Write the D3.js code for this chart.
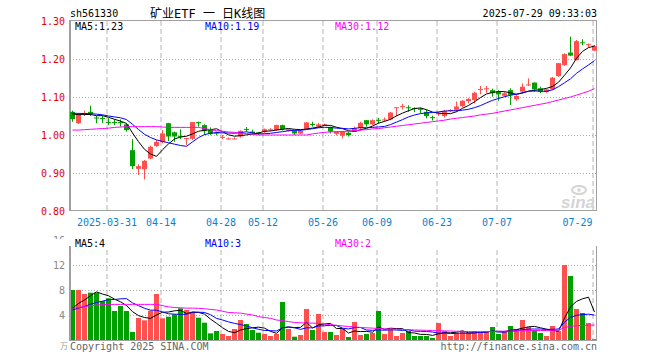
<!DOCTYPE html>
<html>
<head>
<meta charset="utf-8">
<script src="https://cdn.jsdelivr.net/npm/d3@7"></script>
<style>
body { margin: 0; background: #fff; }
svg { display: block; }
text { font-family: "DejaVu Sans Mono", "Liberation Mono", "Noto Sans CJK SC", monospace; font-size: 10px; }
</style>
</head>
<body>
<svg width="660" height="360"></svg>
<script>
// daily K data, 2025-03-21 .. 2025-07-29 (88 sessions)
var open = [1.061,1.031,1.054,1.061,1.046,1.045,1.034,1.034,1.034,1.028,
    0.960,0.911,0.910,0.938,0.971,0.981,1.031,1.007,0.997,0.990,
    0.990,1.034,1.026,1.015,1.006,0.994,0.990,0.990,0.996,1.016,
    1.009,1.007,1.009,1.014,1.013,1.026,1.011,1.011,1.004,1.016,
    1.029,1.022,1.027,1.021,1.003,0.998,1.006,1.009,1.018,1.039,
    1.028,1.040,1.040,1.041,1.072,1.075,1.073,1.071,1.069,1.061,
    1.047,1.056,1.050,1.065,1.066,1.076,1.089,1.092,1.120,1.122,
    1.118,1.114,1.103,1.118,1.094,1.114,1.132,1.138,1.123,1.113,
    1.120,1.155,1.184,1.217,1.197,1.244,1.238,1.222];
var high = [1.064,1.057,1.064,1.077,1.050,1.050,1.044,1.041,1.041,1.031,
    0.989,0.923,0.934,0.972,0.987,1.013,1.032,1.009,1.015,0.992,
    1.034,1.035,1.028,1.020,1.009,1.000,0.993,0.994,1.012,1.021,
    1.014,1.008,1.017,1.018,1.027,1.027,1.016,1.013,1.013,1.034,
    1.035,1.032,1.030,1.022,1.010,1.011,1.009,1.022,1.035,1.039,
    1.041,1.045,1.046,1.061,1.073,1.082,1.078,1.073,1.072,1.067,
    1.051,1.061,1.066,1.068,1.088,1.092,1.097,1.114,1.129,1.129,
    1.122,1.118,1.114,1.123,1.105,1.136,1.149,1.138,1.127,1.121,
    1.153,1.189,1.215,1.259,1.250,1.252,1.241,1.237];
var low = [1.035,1.029,1.050,1.050,1.031,1.031,1.026,1.026,1.022,1.009,
    0.910,0.895,0.883,0.936,0.969,0.978,0.984,0.982,0.989,0.974,
    0.987,1.022,1.000,1.000,0.999,0.989,0.988,0.988,0.993,1.009,
    1.002,1.000,1.005,1.011,1.011,1.012,1.009,1.000,1.002,1.015,
    1.022,1.020,1.024,1.004,0.999,0.991,0.996,1.008,1.013,1.022,
    1.026,1.030,1.035,1.039,1.050,1.067,1.061,1.060,1.057,1.044,
    1.038,1.050,1.046,1.060,1.061,1.073,1.083,1.083,1.107,1.111,
    1.101,1.090,1.101,1.079,1.090,1.110,1.129,1.114,1.110,1.111,
    1.118,1.153,1.182,1.208,1.196,1.236,1.231,1.221];
var close = [1.042,1.055,1.058,1.055,1.044,1.043,1.033,1.032,1.031,1.013,
    0.918,0.918,0.932,0.969,0.982,1.004,0.996,0.996,0.996,0.992,
    1.034,1.031,1.010,1.003,1.004,0.995,0.991,0.991,1.011,1.014,
    1.005,1.004,1.015,1.015,1.026,1.015,1.015,1.004,1.011,1.033,
    1.028,1.028,1.028,1.009,1.009,1.010,1.000,1.018,1.032,1.028,
    1.039,1.039,1.041,1.059,1.073,1.076,1.071,1.069,1.067,1.050,
    1.045,1.057,1.063,1.066,1.075,1.090,1.095,1.111,1.121,1.123,
    1.110,1.107,1.110,1.105,1.103,1.127,1.133,1.120,1.114,1.120,
    1.151,1.189,1.213,1.209,1.247,1.242,1.239,1.234];
// closes of the 9 sessions before the window (for MA5/MA10)
var prevClose = [1.058,1.062,1.060,1.055,1.061,1.063,1.057,1.054,1.060];
// MA30
var ma30 = [1.013,1.013,1.014,1.015,1.016,1.017,1.018,1.020,1.021,1.022,
    1.022,1.022,1.022,1.022,1.022,1.021,1.020,1.020,1.020,1.020,
    1.020,1.020,1.017,1.014,1.011,1.010,1.008,1.007,1.005,1.004,
    1.002,1.000,1.000,1.000,1.000,1.000,1.000,1.000,1.000,1.000,
    1.003,1.005,1.007,1.008,1.009,1.009,1.010,1.011,1.013,1.014,
    1.016,1.017,1.019,1.021,1.023,1.025,1.027,1.029,1.031,1.033,
    1.035,1.037,1.039,1.042,1.044,1.046,1.048,1.050,1.053,1.055,
    1.057,1.060,1.063,1.066,1.069,1.072,1.075,1.078,1.081,1.084,
    1.088,1.092,1.096,1.100,1.105,1.110,1.115,1.122];

var volume = [8.0,8.0,7.36,7.57,7.57,6.24,6.67,4.64,5.44,4.64,
    1.28,3.52,3.15,4.69,7.36,3.47,3.73,4.11,5.07,4.8,
    4.53,3.57,2.77,1.07,1.44,0.96,0.64,1.76,3.2,2.56,
    1.6,1.17,0.96,0.64,0.96,6.08,1.76,0.53,0.8,4.96,
    1.6,4.16,1.28,1.28,0.8,1.76,0.48,2.88,0.8,0.96,
    1.12,4.64,0.96,1.76,0.64,1.12,1.44,0.64,0.64,0.64,
    0.32,2.72,1.44,0.64,1.12,1.44,1.12,1.44,1.12,1.28,
    2.08,0.96,1.28,2.24,1.76,3.2,2.08,1.6,1.12,0.64,
    2.24,1.44,12.0,10.24,4.96,4.32,2.72,0.16];
var prevVol = [4.6,4.8,4.2,4.5,4.3,4.2,4.5,4.3,4.4];
var volMa30 = [5.07,5.2,5.35,5.5,5.6,5.65,5.7,5.7,5.7,5.7,
    5.7,5.7,5.7,5.7,5.7,5.5,5.3,5.2,5.15,5.1,
    5.1,5.07,5.0,4.9,4.8,4.6,4.4,4.35,4.3,4.15,
    4.0,3.75,3.6,3.47,3.2,3.1,2.95,2.8,2.75,2.72,
    2.7,2.65,2.55,2.45,2.35,2.25,2.15,2.1,2.0,1.95,
    1.9,1.85,1.78,1.75,1.72,1.7,1.65,1.6,1.58,1.55,
    1.5,1.48,1.45,1.44,1.4,1.38,1.35,1.33,1.33,1.35,
    1.38,1.4,1.42,1.44,1.46,1.48,1.5,1.52,1.52,1.52,
    1.55,1.58,1.98,2.2,2.28,2.32,2.38,2.4];

var tickIdx = [6, 15, 25, 32, 42, 51, 61, 71, 87];
var tickLabels = ["2025-03-31", "04-14", "04-28", "05-12", "05-26", "06-09", "06-23", "07-07", "07-29"];
var priceTicks = [1.30, 1.20, 1.10, 1.00, 0.90, 0.80];
var volTicks = [16, 12, 8, 4];
var priceMaNow = ["1.23", "1.19", "1.12"];
var volMaNow = ["4", "3", "2"];

var UP = "#ff5050", DOWN = "#00a000";
var maColors = ["#000000", "#0000ff", "#ff00ff"];

function movingAvg(series, prev, n) {
    var all = prev.concat(series);
    return series.map(function(d, i) {
        var j = i + prev.length;
        return d3.mean(all.slice(j - n + 1, j + 1));
    });
}

var svg = d3.select("svg");
var left = 70, right = 597;
var x = d3.scaleLinear().domain([0, close.length - 1]).range([72.5, 594.5]);
var yP = d3.scaleLinear().domain([0.80, 1.30]).range([211, 21]);
var yV = d3.scaleLinear().domain([0, 16]).range([340, 240]);

// header
svg.append("text").attr("x", 70).attr("y", 17).text("sh561330");
svg.append("text").attr("x", 150).attr("y", 18).style("font-size", "12px")
    .text("矿业ETF 一 日K线图");
svg.append("text").attr("x", 597).attr("y", 17).attr("text-anchor", "end")
    .text("2025-07-29 09:33:03");

// ---- price pane ----
var gp = svg.append("g");
gp.selectAll(".hgrid").data(priceTicks.slice(1, -1)).enter().append("line")
    .attr("x1", left).attr("x2", right)
    .attr("y1", function(d) { return Math.round(yP(d)) + 0.5; })
    .attr("y2", function(d) { return Math.round(yP(d)) + 0.5; })
    .attr("stroke", "#aaa").attr("stroke-dasharray", "1,2");
gp.selectAll(".vgrid").data(tickIdx).enter().append("line")
    .attr("x1", function(d) { return x(d) - 1.5; })
    .attr("x2", function(d) { return x(d) - 1.5; })
    .attr("y1", 21).attr("y2", 211)
    .attr("stroke", "#b4b4b4").attr("stroke-dasharray", "5,3");
gp.append("rect").attr("x", left + 0.5).attr("y", 20.5)
    .attr("width", right - left - 1).attr("height", 190)
    .attr("fill", "none").attr("stroke", "#a0a0a0");
gp.append("line").attr("x1", left).attr("x2", left).attr("y1", 20).attr("y2", 211)
    .attr("stroke", "#a0a0a0").attr("stroke-width", 2);

gp.selectAll(".plab").data(priceTicks).enter().append("text")
    .attr("x", 65).attr("y", function(d) { return yP(d) + 3.5; })
    .attr("text-anchor", "end").attr("fill", "#e60000")
    .text(function(d) { return d.toFixed(2); });

gp.selectAll(".dlab").data(tickIdx).enter().append("text")
    .attr("x", function(d, i) { return i === tickIdx.length - 1 ? x(d) - 2 : x(d) - 1.5; })
    .attr("y", 226)
    .attr("text-anchor", function(d, i) { return i === tickIdx.length - 1 ? "end" : "middle"; })
    .attr("fill", "#0a82d2")
    .text(function(d, i) { return tickLabels[i]; });

// watermark
gp.append("text").attr("x", 595).attr("y", 208).attr("text-anchor", "end")
    .style("font-family", "Liberation Sans, sans-serif").style("font-size", "17px")
    .style("font-style", "italic").style("font-weight", "bold")
    .attr("fill", "#d4d4d4").text("sina");
gp.append("ellipse").attr("cx", 579).attr("cy", 190).attr("rx", 7).attr("ry", 4)
    .attr("fill", "none").attr("stroke", "#d4d4d4").attr("stroke-width", 2);
gp.append("circle").attr("cx", 579).attr("cy", 190).attr("r", 1.8).attr("fill", "#d4d4d4");

// candles
var idx = d3.range(close.length);
var candles = gp.selectAll(".candle").data(idx).enter().append("g");
candles.append("line")
    .attr("x1", function(i) { return x(i); }).attr("x2", function(i) { return x(i); })
    .attr("y1", function(i) { return yP(high[i]); })
    .attr("y2", function(i) { return yP(low[i]); })
    .attr("stroke", function(i) { return close[i] >= open[i] ? UP : DOWN; });
candles.append("rect")
    .attr("x", function(i) { return x(i) - 2.5; }).attr("width", 5)
    .attr("y", function(i) { return yP(Math.max(open[i], close[i])); })
    .attr("height", function(i) { return Math.max(1, Math.abs(yP(open[i]) - yP(close[i]))); })
    .attr("fill", function(i) { return close[i] >= open[i] ? UP : DOWN; });

var priceMas = [movingAvg(close, prevClose, 5), movingAvg(close, prevClose, 10), ma30];
var lineP = d3.line().x(function(d, i) { return x(i); }).y(function(d) { return yP(d); });
priceMas.forEach(function(m, k) {
    gp.append("path").datum(m).attr("d", lineP)
        .attr("fill", "none").attr("stroke", maColors[k]).attr("stroke-width", 1);
});

var legX = [75, 205, 335];
["MA5:", "MA10:", "MA30:"].forEach(function(t, k) {
    gp.append("text").attr("x", legX[k]).attr("y", 30).attr("fill", maColors[k])
        .text(t + priceMaNow[k]);
});

// ---- volume pane ----
var gv = svg.append("g");
var clip = svg.append("clipPath").attr("id", "topcut");
clip.append("rect").attr("x", 0).attr("y", 0).attr("width", 70).attr("height", 239);
gv.selectAll(".vlab").data(volTicks).enter().append("text")
    .attr("x", 65).attr("y", function(d) { return yV(d) + 3.5; })
    .attr("text-anchor", "end").attr("fill", "#888")
    .attr("clip-path", function(d) { return d === 16 ? "url(#topcut)" : null; })
    .text(function(d) { return d; });
gv.selectAll(".vh").data(volTicks.slice(1)).enter().append("line")
    .attr("x1", left).attr("x2", right)
    .attr("y1", function(d) { return Math.round(yV(d)) + 0.5; })
    .attr("y2", function(d) { return Math.round(yV(d)) + 0.5; })
    .attr("stroke", "#aaa").attr("stroke-dasharray", "1,2");
gv.selectAll(".vv").data(tickIdx).enter().append("line")
    .attr("x1", function(d) { return x(d) - 1.5; })
    .attr("x2", function(d) { return x(d) - 1.5; })
    .attr("y1", 250).attr("y2", 340)
    .attr("stroke", "#b4b4b4").attr("stroke-dasharray", "5,3");

gv.selectAll(".bar").data(idx).enter().append("rect")
    .attr("x", function(i) { return x(i) - 2.5; }).attr("width", 5)
    .attr("y", function(i) { return yV(volume[i]); })
    .attr("height", function(i) { return yV(0) - yV(volume[i]); })
    .attr("fill", function(i) { return close[i] >= open[i] ? UP : DOWN; });

var volMas = [movingAvg(volume, prevVol, 5), movingAvg(volume, prevVol, 10), volMa30];
var lineV = d3.line().x(function(d, i) { return x(i); }).y(function(d) { return yV(d); });
volMas.forEach(function(m, k) {
    gv.append("path").datum(m).attr("d", lineV)
        .attr("fill", "none").attr("stroke", maColors[k]).attr("stroke-width", 1);
});

gv.append("line").attr("x1", left).attr("x2", left).attr("y1", 246).attr("y2", 341)
    .attr("stroke", "#a0a0a0").attr("stroke-width", 2);
gv.append("line").attr("x1", right - 0.5).attr("x2", right - 0.5).attr("y1", 246).attr("y2", 341)
    .attr("stroke", "#a0a0a0");
gv.append("line").attr("x1", left).attr("x2", right).attr("y1", 340.5).attr("y2", 340.5)
    .attr("stroke", "#a0a0a0");

["MA5:", "MA10:", "MA30:"].forEach(function(t, k) {
    gv.append("text").attr("x", legX[k]).attr("y", 247).attr("fill", maColors[k])
        .text(t + volMaNow[k]);
});

gv.append("text").attr("x", 60).attr("y", 349).attr("fill", "#999")
    .style("font-size", "8px").text("万");
gv.append("text").attr("x", 70).attr("y", 350).attr("fill", "#666")
    .text("Copyright 2025 SINA.COM");
gv.append("text").attr("x", 597).attr("y", 350).attr("text-anchor", "end").attr("fill", "#666")
    .text("http://finance.sina.com.cn");
</script>
</body>
</html>
